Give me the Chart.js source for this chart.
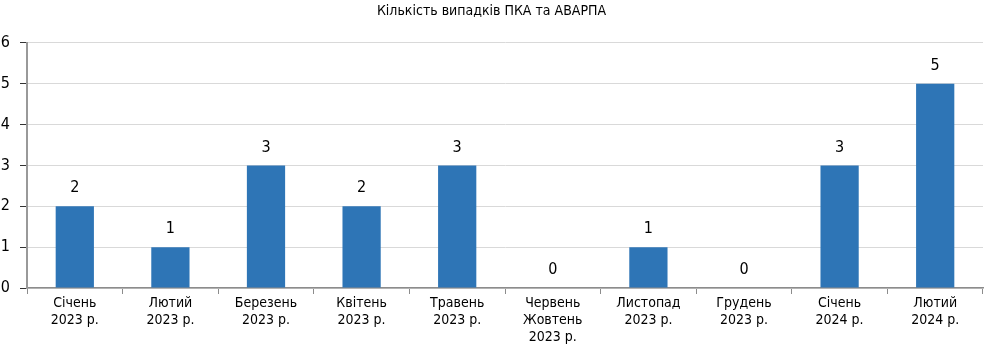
<!DOCTYPE html>
<html>
<head>
<meta charset="utf-8">
<script src="https://cdn.jsdelivr.net/npm/chart.js@4.4.1/dist/chart.umd.min.js"></script>
<style>
  html, body { margin: 0; padding: 0; background: #fff; }
  #wrap { width: 986px; height: 348px; }
</style>
</head>
<body>
<div id="wrap"><canvas id="myChart" width="986" height="348"></canvas></div>
<script>
const chartTitle = 'Кількість випадків ПКА та АВАРПА';
const categories = [
    ['Січень', '2023 р.'],
    ['Лютий', '2023 р.'],
    ['Березень', '2023 р.'],
    ['Квітень', '2023 р.'],
    ['Травень', '2023 р.'],
    ['Червень', 'Жовтень', '2023 р.'],
    ['Листопад', '2023 р.'],
    ['Грудень', '2023 р.'],
    ['Січень', '2024 р.'],
    ['Лютий', '2024 р.']
];
const cases = [2, 1, 3, 2, 3, 0, 1, 0, 3, 5];
const yTicks = [0, 1, 2, 3, 4, 5, 6];

const FONT = '"DejaVu Sans Condensed", "Liberation Sans Narrow", "Liberation Sans", sans-serif';

// підписи значень над стовпчиками
const valueLabels = {
    id: 'valueLabels',
    afterDatasetsDraw(chart) {
        const ctx = chart.ctx;
        const meta = chart.getDatasetMeta(0);
        ctx.save();
        ctx.font = '16px ' + FONT;
        ctx.fillStyle = '#000';
        ctx.textAlign = 'center';
        ctx.textBaseline = 'bottom';
        meta.data.forEach((bar, i) => {
            ctx.fillText(String(cases[i]), bar.x, bar.y - 10);
        });
        ctx.restore();
    }
};

const ctx = document.getElementById('myChart').getContext('2d');
new Chart(ctx, {
    type: 'bar',
    data: {
        labels: categories,
        datasets: [{
            data: cases,
            backgroundColor: '#2E75B6',
            barPercentage: 0.4,
            categoryPercentage: 1
        }]
    },
    options: {
        responsive: false,
        animation: false,
        layout: { padding: { left: 0, right: 3, top: 0, bottom: 0 } },
        plugins: {
            legend: { display: false },
            tooltip: { enabled: false },
            title: {
                display: true,
                text: chartTitle,
                color: '#000',
                font: { family: FONT, size: 14, weight: 'normal' },
                padding: { top: 3, bottom: 23 }
            }
        },
        scales: {
            x: {
                offset: true,
                grid: {
                    offset: true,
                    drawOnChartArea: false,
                    drawTicks: true,
                    tickLength: 6,
                    tickColor: '#8c8c8c'
                },
                border: { color: '#8c8c8c', width: 1.5 },
                ticks: {
                    color: '#000',
                    font: { family: FONT, size: 14, lineHeight: 1.2 },
                    maxRotation: 0,
                    autoSkip: false,
                    padding: 1
                },
                afterFit(scale) { scale.height = 60; }
            },
            y: {
                min: 0,
                max: 6,
                afterBuildTicks(scale) { scale.ticks = yTicks.map(v => ({ value: v })); },
                grid: {
                    color: '#d9d9d9',
                    drawTicks: true,
                    tickLength: 7,
                    tickColor: '#333'
                },
                border: { color: '#999', width: 2 },
                ticks: {
                    color: '#000',
                    font: { family: FONT, size: 16 },
                    padding: 10
                },
                afterFit(scale) { scale.width = 27; }
            }
        }
    },
    plugins: [valueLabels]
});
</script>
</body>
</html>
